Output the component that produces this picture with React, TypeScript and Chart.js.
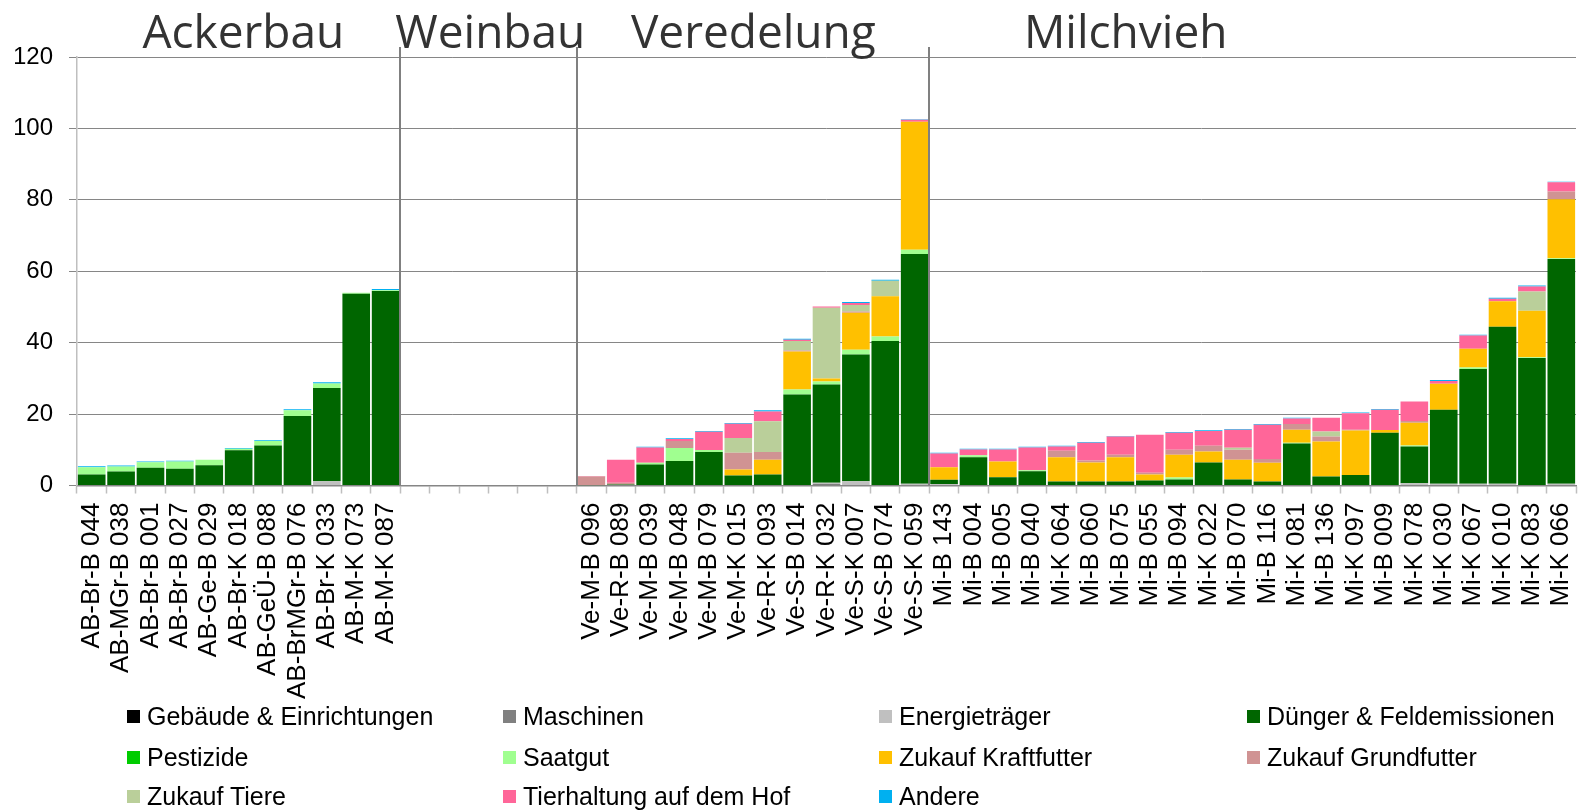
import React, { useEffect, useRef } from "react";
import { Chart, registerables } from "chart.js";

Chart.register(...registerables);

// ---- categories ----
const abLabels = ["AB-Br-B 044", "AB-MGr-B 038", "AB-Br-B 001", "AB-Br-B 027", "AB-Ge-B 029", "AB-Br-K 018", "AB-GeÜ-B 088", "AB-BrMGr-B 076", "AB-Br-K 033", "AB-M-K 073", "AB-M-K 087"];
const weinbauSlots = 6;
const veLabels = ["Ve-M-B 096", "Ve-R-B 089", "Ve-M-B 039", "Ve-M-B 048", "Ve-M-B 079", "Ve-M-K 015", "Ve-R-K 093", "Ve-S-B 014", "Ve-R-K 032", "Ve-S-K 007", "Ve-S-B 074", "Ve-S-K 059"];
const miLabels = ["Mi-B 143", "Mi-B 004", "Mi-B 005", "Mi-B 040", "Mi-K 064", "Mi-B 060", "Mi-B 075", "Mi-B 055", "Mi-B 094", "Mi-K 022", "Mi-B 070", "Mi-B 116", "Mi-K 081", "Mi-B 136", "Mi-K 097", "Mi-B 009", "Mi-K 078", "Mi-K 030", "Mi-K 067", "Mi-K 010", "Mi-K 083", "Mi-K 066"];

const sectionNames = ["Ackerbau", "Weinbau", "Veredelung", "Milchvieh"];

// ---- series values: 11 Ackerbau | 12 Veredelung | 22 Milchvieh ----
const gebaeude = [
  0, 0, 0, 0, 0, 0, 0, 0, 0, 0, 0,
  0, 0, 0, 0, 0, 0, 0, 0, 0, 0, 0, 0,
  0, 0, 0, 0, 0, 0, 0, 0, 0, 0, 0, 0, 0, 0, 0, 0, 0, 0, 0, 0, 0, 0,
];
const maschinen = [
  0, 0, 0, 0, 0, 0, 0, 0, 0, 0, 0,
  0, 0, 0, 0, 0, 0, 0, 0, 0.4, 0, 0, 0,
  0, 0, 0, 0, 0, 0, 0, 0, 0, 0, 0, 0, 0, 0, 0, 0, 0, 0, 0, 0, 0, 0,
];
const energie = [
  0, 0, 0, 0, 0, 0, 0, 0, 1.2, 0, 0,
  0, 0, 0, 0, 0, 0, 0, 0, 0.4, 1.2, 0, 0.5,
  0.4, 0, 0, 0, 0, 0, 0, 0, 0, 0, 0, 0, 0, 0, 0, 0, 0.6, 0.5, 0.5, 0.5, 0, 0.5,
];
const duenger = [
  3.1, 3.9, 5.0, 4.7, 5.65, 9.9, 11.2, 19.5, 26.1, 53.7, 54.5,
  0.1, 0.3, 5.9, 6.9, 9.4, 2.8, 3.05, 25.5, 27.5, 35.5, 40.5, 64.3,
  1.2, 7.9, 2.3, 4.0, 1.1, 1.1, 1.1, 1.4, 1.7, 6.45, 1.7, 1.1, 11.8, 2.5, 2.95, 14.8, 10.3, 20.7, 32.1, 43.95, 35.7, 62.95,
];
const pestizide = [
  0, 0, 0, 0, 0, 0, 0, 0, 0, 0, 0,
  0, 0, 0, 0, 0, 0, 0, 0, 0, 0, 0, 0,
  0, 0, 0, 0, 0, 0, 0, 0, 0, 0, 0, 0, 0, 0, 0, 0, 0, 0, 0, 0, 0, 0,
];
const saatgut = [
  2.0, 1.45, 1.5, 2.0, 1.55, 0.4, 1.3, 1.6, 1.3, 0.3, 0.15,
  0, 0, 0.5, 3.6, 0.55, 0, 0, 1.4, 0.85, 1.35, 1.2, 1.2,
  0, 0.55, 0, 0.25, 0, 0, 0, 0, 0.55, 0, 0, 0, 0.2, 0, 0, 0, 0.3, 0, 0.45, 0, 0.2, 0.2,
];
const kraftfutter = [
  0, 0, 0, 0, 0, 0, 0, 0, 0, 0, 0,
  0, 0, 0, 0, 0, 1.65, 4.15, 10.6, 0.85, 10.35, 11.3, 35.85,
  3.5, 0, 4.45, 0, 6.8, 5.35, 6.8, 1.65, 6.35, 3.05, 5.5, 5.3, 3.6, 9.8, 12.45, 0.75, 6.4, 7.3, 5.25, 7.15, 13.05, 16.5,
];
const grundfutter = [
  0, 0, 0, 0, 0, 0, 0, 0, 0, 0, 0,
  2.4, 0.5, 0, 1.95, 0, 4.7, 2.2, 0.3, 0, 0.3, 0, 0,
  0, 0, 0, 0, 1.85, 0.55, 0.7, 0.55, 1.4, 1.65, 2.8, 1.0, 1.65, 1.4, 0.2, 0, 0.5, 0, 0, 0, 0, 2.2,
];
const tiere = [
  0, 0, 0, 0, 0, 0, 0, 0, 0, 0, 0,
  0, 0, 0, 0, 0, 4.15, 8.6, 2.7, 19.8, 1.85, 4.35, 0,
  0, 0, 0, 0, 0, 0, 0, 0, 0, 0, 0.6, 0, 0, 1.4, 0, 0, 0, 0, 0, 0, 5.4, 0,
];
const tierhaltung = [
  0, 0, 0, 0, 0, 0, 0, 0, 0, 0, 0,
  0.15, 6.4, 4.25, 0.55, 5.1, 4.0, 2.75, 0.3, 0.3, 0.55, 0, 0.55,
  3.9, 1.65, 3.35, 6.4, 1.15, 5.0, 5.1, 10.6, 4.8, 4.15, 5.0, 9.6, 1.5, 3.9, 4.65, 5.65, 5.4, 0.8, 3.7, 0.7, 1.4, 2.55,
];
const andere = [
  0.3, 0.25, 0.2, 0.25, 0, 0.2, 0.2, 0.25, 0.3, 0, 0.35,
  0, 0, 0.2, 0.25, 0.2, 0.2, 0.3, 0.3, 0, 0.3, 0.3, 0.2,
  0.2, 0.2, 0.2, 0.2, 0.25, 0.2, 0.2, 0, 0.2, 0.2, 0.2, 0.25, 0.25, 0, 0.2, 0.2, 0, 0.25, 0.2, 0.3, 0.25, 0.2,
];

const yTicks = [0, 20, 40, 60, 80, 100, 120];

const seriesNames = ["Gebäude & Einrichtungen", "Maschinen", "Energieträger", "Dünger & Feldemissionen", "Pestizide", "Saatgut", "Zukauf Kraftfutter", "Zukauf Grundfutter", "Zukauf Tiere", "Tierhaltung auf dem Hof", "Andere"];
const seriesValues = [gebaeude, maschinen, energie, duenger, pestizide, saatgut, kraftfutter, grundfutter, tiere, tierhaltung, andere];
const seriesColors = ["#000000", "#808080", "#C0C0C0", "#006600", "#00CC00", "#A0FF90", "#FFC000", "#D09393", "#BACF9A", "#FF6699", "#00B0F0"];

// ---- layout / style constants ----
const W = 1578;
const H = 811;
const TITLE_ANCHORS = [5.16, 13.56, 22.51, 35.18];
const FONT = "'Liberation Sans', Arial, sans-serif";

const emptySlots = Array.from({ length: weinbauSlots }, () => "");
const labels = [...abLabels, ...emptySlots, ...veLabels, ...miLabels];
const nAB = abLabels.length;
const nVe = veLabels.length;
const expand = (arr: number[]) => [
  ...arr.slice(0, nAB),
  ...Array.from({ length: weinbauSlots }, () => null),
  ...arr.slice(nAB),
];
const boundaries = [nAB - 1, nAB + weinbauSlots - 1, nAB + weinbauSlots + nVe - 1];

const sectionPlugin = {
  id: "sections",
  afterDraw(chart: any) {
    const { ctx, chartArea, scales } = chart;
    const x = scales.x;
    ctx.save();
    ctx.strokeStyle = "#808080";
    ctx.lineWidth = 2;
    boundaries.forEach((i) => {
      const px = Math.round((x.getPixelForValue(i) + x.getPixelForValue(i + 1)) / 2);
      ctx.beginPath();
      ctx.moveTo(px, 47);
      ctx.lineTo(px, chartArea.bottom);
      ctx.stroke();
    });
    ctx.fillStyle = "#333333";
    ctx.font = "46px 'Open Sans', sans-serif";
    ctx.textAlign = "center";
    ctx.textBaseline = "alphabetic";
    sectionNames.forEach((name, k) => {
      ctx.fillText(name, x.getPixelForValue(TITLE_ANCHORS[k]), 48);
    });
    ctx.restore();
  },
};

const legendCols = [127, 503, 879, 1247];
const legendRows = [716, 757, 796];

export default function App() {
  const canvasRef = useRef<HTMLCanvasElement | null>(null);

  useEffect(() => {
    document.body.style.margin = "0";
    const canvas = canvasRef.current;
    if (!canvas) return;
    const chart = new Chart(canvas, {
      type: "bar",
      data: {
        labels,
        datasets: seriesNames.map((name, k) => ({
          label: name,
          data: expand(seriesValues[k]),
          backgroundColor: seriesColors[k],
          borderWidth: 0,
          categoryPercentage: 1,
          barPercentage: 0.94,
        })),
      },
      options: {
        responsive: false,
        animation: false,
        devicePixelRatio: 1,
        layout: { padding: { top: 57, left: 15, right: 2, bottom: 103 } },
        plugins: { legend: { display: false }, tooltip: { enabled: false } },
        scales: {
          x: {
            stacked: true,
            afterFit: (scale: any) => {
              scale.paddingLeft = 0;
              scale.paddingRight = 0;
            },
            grid: {
              offset: true,
              drawOnChartArea: false,
              drawTicks: true,
              tickLength: 8,
              tickColor: "#BFBFBF",
              tickWidth: 1.5,
            },
            border: { color: "#868686", width: 1.5 },
            ticks: {
              autoSkip: false,
              minRotation: 90,
              maxRotation: 90,
              padding: 9,
              color: "#000000",
              font: { family: FONT, size: 26 },
            },
          },
          y: {
            stacked: true,
            min: 0,
            max: 120,
            afterFit: (scale: any) => {
              scale.width = 62;
            },
            afterBuildTicks: (scale: any) => {
              scale.ticks = yTicks.map((v) => ({ value: v }));
            },
            grid: { color: "#868686", lineWidth: 1, tickLength: 8 },
            border: { color: "#BFBFBF", width: 1.5 },
            ticks: {
              padding: 16,
              color: "#000000",
              font: { family: FONT, size: 24 },
            },
          },
        },
      },
      plugins: [sectionPlugin],
    });
    return () => chart.destroy();
  }, []);

  return (
    <div style={{ position: "relative", width: W, height: H, background: "#fff", overflow: "hidden" }}>
      <canvas ref={canvasRef} width={W} height={H} style={{ position: "absolute", left: 0, top: 0 }} />
      {seriesNames.map((name, k) => (
        <div
          key={name}
          style={{
            position: "absolute",
            left: legendCols[k % 4],
            top: legendRows[Math.floor(k / 4)] - 15,
            height: 30,
            display: "flex",
            alignItems: "center",
            fontFamily: FONT,
            fontSize: 25,
            color: "#000",
            whiteSpace: "nowrap",
          }}
        >
          <span style={{ display: "inline-block", width: 13, height: 13, background: seriesColors[k], marginRight: 7 }} />
          {name}
        </div>
      ))}
    </div>
  );
}
